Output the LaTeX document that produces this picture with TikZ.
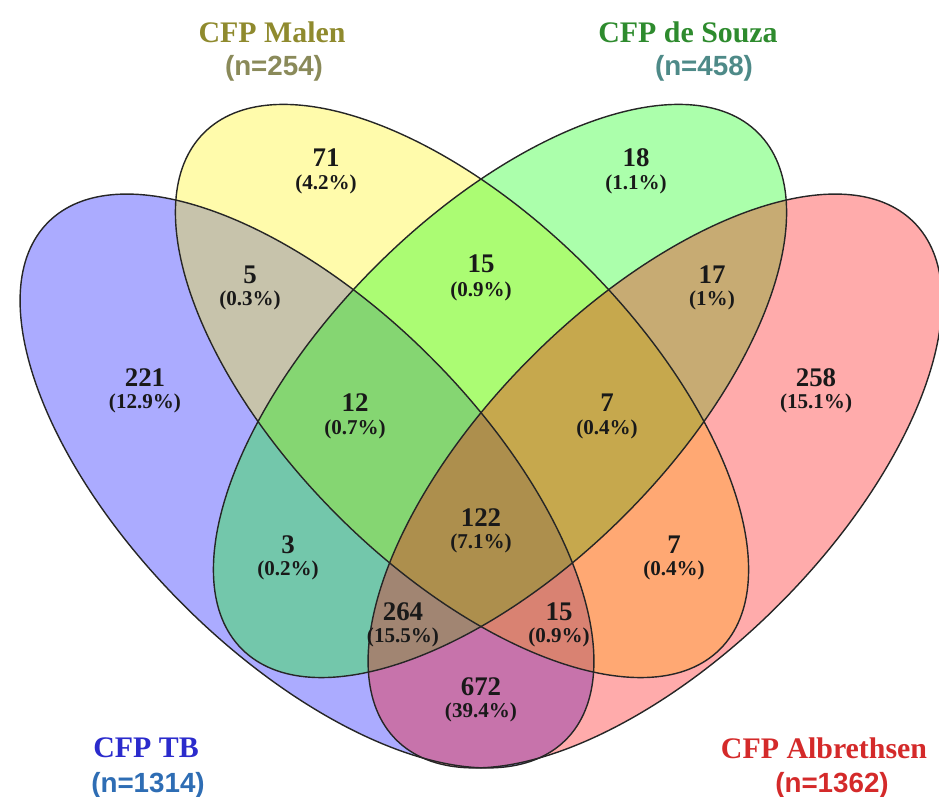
\documentclass[tikz,border=0pt]{standalone}
\usepackage{fontspec}
\setmainfont{Liberation Serif}
\setsansfont{Liberation Sans}
\usetikzlibrary{positioning}

\definecolor{malencol}{HTML}{8F8A2E}
\definecolor{malenn}{HTML}{8A8A5A}
\definecolor{souzacol}{HTML}{2E8B2E}
\definecolor{souzan}{HTML}{4E8A88}
\definecolor{tbcol}{HTML}{2B2BCC}
\definecolor{tbn}{HTML}{2E6DB4}
\definecolor{albcol}{HTML}{D42A2A}

\begin{document}
\begin{tikzpicture}[x=0.02cm, y=0.02cm,
	setfill/.style={fill opacity=0.33},
	rim/.style={draw=black!85, line width=0.8pt},
	num/.style={font=\fontsize{15.3}{16}\selectfont\bfseries, text=black!90},
	pct/.style={on grid, font=\fontsize{12}{13}\selectfont\bfseries, text=black!90},
	title/.style={font=\fontsize{17}{18}\selectfont\bfseries},
	nlabel/.style={font=\fontsize{15.8}{17}\selectfont\sffamily\bfseries}]
		\useasboundingbox (0,0) rectangle (939,797);
		
		\coordinate (tb) at (307,316);
		\coordinate (malen) at (462,406);
		\coordinate (souza) at (500,406);
		\coordinate (alb) at (655,316);
		
		% the four sets
		\fill[blue, setfill, rotate around={-45:(tb)}] (tb) ellipse [x radius=366, y radius=175];
		\fill[yellow, setfill, rotate around={-45:(malen)}] (malen) ellipse [x radius=365, y radius=176];
		\fill[green, setfill, rotate around={45:(souza)}] (souza) ellipse [x radius=365, y radius=176];
		\fill[red, setfill, rotate around={45:(alb)}] (alb) ellipse [x radius=366, y radius=175];
		
		\draw[rim, rotate around={-45:(tb)}] (tb) ellipse [x radius=366, y radius=175];
		\draw[rim, rotate around={-45:(malen)}] (malen) ellipse [x radius=365, y radius=176];
		\draw[rim, rotate around={45:(souza)}] (souza) ellipse [x radius=365, y radius=176];
		\draw[rim, rotate around={45:(alb)}] (alb) ellipse [x radius=366, y radius=175];
		
		% counts
		\node[num] (n71) at (326,639) {71};
		\node[pct, below=0.52cm of n71] (p71) {(4.2\%)};
		\node[num] (n18) at (636,639) {18};
		\node[pct, below=0.52cm of n18] (p18) {(1.1\%)};
		\node[num] (n5) at (250,522) {5};
		\node[pct, below=0.5cm of n5] (p5) {(0.3\%)};
		\node[num] (n15a) at (481,533) {15};
		\node[pct, below=0.54cm of n15a] (p15a) {(0.9\%)};
		\node[num] (n17) at (712,522) {17};
		\node[pct, below=0.5cm of n17] (p17) {(1\%)};
		\node[num] (n221) at (145,419) {221};
		\node[pct, below=0.5cm of n221] (p221) {(12.9\%)};
		\node[num] (n12) at (355,394) {12};
		\node[pct, below=0.52cm of n12] (p12) {(0.7\%)};
		\node[num] (n7a) at (607,394) {7};
		\node[pct, below=0.52cm of n7a] (p7a) {(0.4\%)};
		\node[num] (n258) at (816,419) {258};
		\node[pct, below=0.5cm of n258] (p258) {(15.1\%)};
		\node[num] (n122) at (481,279) {122};
		\node[pct, below=0.5cm of n122] (p122) {(7.1\%)};
		\node[num] (n3) at (288,252) {3};
		\node[pct, below=0.5cm of n3] (p3) {(0.2\%)};
		\node[num] (n7b) at (674,252) {7};
		\node[pct, below=0.5cm of n7b] (p7b) {(0.4\%)};
		\node[num] (n264) at (403,185) {264};
		\node[pct, below=0.5cm of n264] (p264) {(15.5\%)};
		\node[num] (n15b) at (559,185) {15};
		\node[pct, below=0.5cm of n15b] (p15b) {(0.9\%)};
		\node[num] (n672) at (481,110) {672};
		\node[pct, below=0.5cm of n672] (p672) {(39.4\%)};
		
		% set names
		\node[title, text=malencol] (tmalen) at (272,765) {CFP Malen};
		\node[nlabel, text=malenn] (cmalen) at (274,729) {(n=254)};
		\node[title, text=souzacol] (tsouza) at (688,765) {CFP de Souza};
		\node[nlabel, text=souzan] (csouza) at (704,729) {(n=458)};
		\node[title, text=tbcol] (ttb) at (146,49) {CFP TB};
		\node[nlabel, text=tbn] (ctb) at (148,12) {(n=1314)};
		\node[title, text=albcol] (talb) at (824,49) {CFP Albrethsen};
		\node[nlabel, text=albcol] (calb) at (832,12) {(n=1362)};
\end{tikzpicture}
\end{document}
